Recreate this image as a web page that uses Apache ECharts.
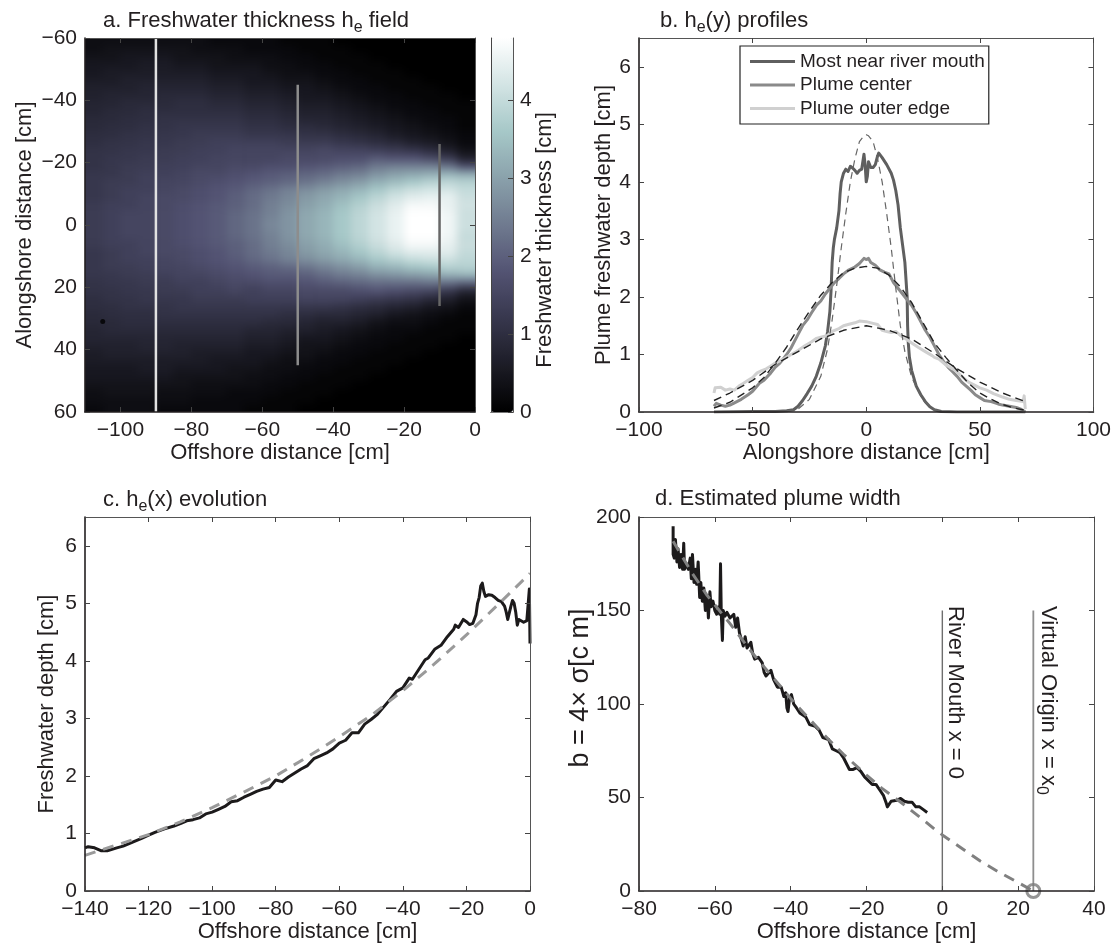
<!DOCTYPE html>
<html><head><meta charset="utf-8">
<style>
html,body{margin:0;background:#fff}
#c{position:absolute;left:0;top:0;width:1114px;height:949px;z-index:2}
#fieldClip{position:absolute;left:85px;top:38px;width:390px;height:374px;overflow:hidden;z-index:1;background:#000}
#field{position:absolute;left:-18px;top:-8px;width:426px;height:390px;filter:blur(4px)}
</style>
<script src="https://cdn.jsdelivr.net/npm/echarts@6/dist/echarts.min.js"></script>
</head><body><div id="fieldClip"><div id="field"></div></div><div id="c"></div>
<script>
// Panel a: field in tenths of a cm, columns = heatX, rows = heatY
const heatX=[-107.5,-102.5,-97.5,-92.5,-87.5,-82.5,-77.5,-72.5,-67.5,-62.5,-57.5,-52.5,-47.5,-42.5,-37.5,-32.5,-27.5,-22.5,-17.5,-12.5,-7.5,-2.5];
const heatY=[-58.75,-56.25,-53.75,-51.25,-48.75,-46.25,-43.75,-41.25,-38.75,-36.25,-33.75,-31.25,-28.75,-26.25,-23.75,-21.25,-18.75,-16.25,-13.75,-11.25,-8.75,-6.25,-3.75,-1.25,1.25,3.75,6.25,8.75,11.25,13.75,16.25,18.75,21.25,23.75,26.25,28.75,31.25,33.75,36.25,38.75,41.25,43.75,46.25,48.75,51.25,53.75,56.25,58.75];
const heatRows=[
[3,3,3,3,3,3,3,2,2,2,2,1,1,1,0,0,0,0,0,0,0,0],
[3,4,4,4,4,4,3,3,3,2,2,2,1,1,1,0,0,0,0,0,0,0],
[4,4,5,5,5,4,4,4,3,3,3,2,2,1,1,1,0,0,0,0,0,0],
[5,5,5,6,6,5,5,4,4,4,3,3,2,2,1,1,1,0,0,0,0,0],
[5,6,6,6,6,6,6,5,5,5,4,3,3,2,2,1,1,1,0,0,0,0],
[6,6,7,7,7,7,7,6,6,5,5,4,4,3,2,2,1,1,1,0,0,0],
[7,7,7,8,8,8,8,7,7,6,6,5,5,4,3,2,2,1,1,1,0,0],
[7,8,8,8,9,9,9,8,8,7,7,6,5,5,4,3,2,2,1,1,1,0],
[8,8,9,9,9,10,10,9,9,8,8,7,6,6,5,4,3,2,2,1,1,1],
[8,9,9,10,10,10,10,10,10,9,9,8,7,7,6,5,4,3,2,2,1,1],
[9,9,10,10,11,11,11,11,11,10,10,9,8,8,7,6,5,4,3,2,2,1],
[9,10,10,11,11,12,12,12,12,11,11,10,10,9,8,7,6,5,4,3,2,1],
[10,10,11,11,12,12,13,13,13,12,12,12,11,11,10,9,8,6,5,4,3,2],
[10,11,11,12,12,13,13,14,14,14,14,13,13,13,12,11,10,9,7,6,4,2],
[11,11,12,12,13,13,14,14,15,15,15,15,15,16,15,15,14,13,12,10,7,4],
[11,12,12,13,13,14,14,15,15,15,15,16,16,16,17,17,19,18,18,16,13,7],
[11,12,13,13,14,14,15,15,16,16,17,17,18,19,20,21,24,25,25,25,23,17],
[12,12,13,14,14,15,16,16,17,18,19,20,21,22,24,25,28,30,31,32,33,32],
[12,13,13,14,15,15,16,17,18,19,20,21,23,25,27,29,32,34,36,38,39,38],
[12,13,14,14,15,16,17,18,19,21,23,25,27,29,31,33,36,39,41,42,42,40],
[12,13,14,15,16,16,17,18,20,22,24,26,29,31,33,36,39,42,44,45,45,41],
[13,14,14,15,16,17,18,19,20,22,25,27,30,32,35,38,41,44,47,47,45,42],
[13,14,15,15,16,17,18,19,21,23,25,28,31,33,36,39,42,45,48,48,46,41],
[13,14,15,15,16,17,18,19,21,23,26,28,31,33,36,39,42,45,48,48,46,41],
[13,14,15,15,16,17,18,19,21,23,26,28,31,33,36,39,42,45,48,48,46,41],
[13,14,15,15,16,17,18,19,21,23,25,28,31,33,36,39,42,45,48,48,46,40],
[13,14,14,15,16,17,18,19,20,22,25,27,30,32,35,38,41,44,47,47,45,41],
[12,13,14,15,16,16,17,18,20,22,24,26,29,31,33,36,39,42,44,44,44,40],
[12,13,14,14,15,16,17,18,19,21,23,25,27,29,31,33,36,38,40,41,41,39],
[12,13,13,14,15,15,16,17,18,19,20,21,23,25,27,29,32,33,35,36,38,38],
[12,12,13,13,14,15,15,16,17,18,19,19,20,22,24,25,27,28,29,30,32,33],
[11,12,12,13,13,14,14,15,16,16,17,17,18,19,20,21,22,22,22,23,22,20],
[11,11,12,12,13,13,14,14,15,14,15,15,16,16,16,17,18,17,16,15,12,8],
[10,11,11,12,12,12,13,13,13,14,14,14,15,15,15,14,13,12,11,9,7,4],
[10,10,11,11,11,12,12,12,12,12,12,12,12,12,11,10,9,8,7,5,4,2],
[9,10,10,10,11,11,11,11,11,11,11,10,10,9,9,8,7,5,4,3,2,1],
[9,9,10,10,10,10,10,10,10,10,9,9,8,7,7,6,4,3,3,2,1,1],
[8,9,9,9,9,9,9,9,9,8,8,7,7,6,5,4,3,2,2,1,1,1],
[8,8,8,8,8,8,8,8,8,7,7,6,5,5,4,3,2,2,1,1,1,0],
[7,7,7,8,8,7,7,7,7,6,6,5,4,4,3,2,2,1,1,1,0,0],
[6,7,7,7,7,7,6,6,6,5,5,4,4,3,2,2,1,1,1,0,0,0],
[6,6,6,6,6,6,6,5,5,5,4,3,3,2,2,1,1,1,0,0,0,0],
[5,5,5,6,6,5,5,5,4,4,3,3,2,2,1,1,1,0,0,0,0,0],
[5,5,5,5,5,4,4,4,4,3,3,2,2,1,1,1,0,0,0,0,0,0],
[4,4,4,4,4,4,3,3,3,3,2,2,1,1,1,0,0,0,0,0,0,0],
[3,4,4,4,3,3,3,3,2,2,2,1,1,1,0,0,0,0,0,0,0,0],
[3,3,3,3,3,3,2,2,2,2,1,1,1,0,0,0,0,0,0,0,0,0],
[2,3,3,3,2,2,2,2,2,1,1,1,0,0,0,0,0,0,0,0,0,0]];
const boneStops=['#000000','#1c1c26','#37374d','#535373','#6f7a8f','#8aa1ab','#a6c8c8','#d3e4e4','#ffffff'];
const sectionFar=[[-90,-60],[-90,60]], sectionMid=[[-50,-45],[-50,45]], sectionNear=[[-10,-26],[-10,26]];
const darkSpot=[[-105,31]];

// Panel b
const nearProfile=[[-67,0],[-50,.01],[-40,.01],[-35,.02],[-32,.04],[-30,.1],[-28,.2],[-26,.32],[-24,.45],[-22,.62],[-20,.85],[-18,1.15],[-17,1.4],[-16,1.75],[-15.5,2.1],[-15,2.6],[-14.5,2.85],[-14,3],[-13,3.2],[-12,3.5],[-11.5,3.8],[-11,4],[-10,4.15],[-9,4.22],[-8,4.18],[-7,4.27],[-6,4.24],[-5,4.2],[-4,4.15],[-3,4.2],[-2,4.22],[-1,4.48],[-.5,4.3],[0,4],[.5,4.1],[1,4.35],[2,4.25],[3,4.25],[4,4.3],[5,4.45],[5.5,4.5],[7,4.42],[9,4.3],[11,4.15],[12,4.03],[13,3.85],[14,3.6],[15,3.2],[16,2.9],[17,2.6],[18,2],[18.2,1.5],[18.5,1.2],[19,.95],[20,.72],[22,.45],[24,.3],[26,.18],[28,.09],[30,.04],[33,.01],[40,0],[50,0],[70,0]];
const centerProfile=[[-67,.1],[-66,.15],[-64,.12],[-62,.1],[-60,.12],[-58,.16],[-55,.22],[-52,.3],[-50,.36],[-47,.5],[-45,.55],[-42,.68],[-40,.78],[-38,.85],[-35,1],[-33,1.12],[-30,1.35],[-28,1.5],[-26,1.6],[-24,1.73],[-22,1.85],[-20,1.93],[-18,2.05],[-16,2.15],[-14,2.25],[-12,2.32],[-10,2.4],[-8,2.46],[-5,2.52],[-3,2.58],[-1,2.67],[0,2.65],[1,2.67],[2,2.6],[4,2.55],[6,2.47],[8,2.43],[10,2.4],[12,2.25],[14,2.15],[16,2.05],[18,1.95],[20,1.85],[22,1.72],[24,1.57],[26,1.42],[28,1.3],[30,1.15],[32,1],[34,.88],[36,.78],[38,.7],[40,.62],[42,.52],[44,.45],[46,.38],[48,.3],[50,.25],[52,.2],[55,.18],[58,.14],[60,.12],[63,.1],[66,.08],[68,.05],[70,0]];
const outerProfile=[[-67,.33],[-66.5,.42],[-64,.43],[-62,.38],[-60,.4],[-58,.38],[-56,.45],[-54,.5],[-52,.55],[-50,.6],[-48,.68],[-46,.72],[-44,.75],[-42,.8],[-40,.85],[-36,.93],[-33,1],[-30,1.07],[-27,1.15],[-24,1.22],[-22,1.28],[-20,1.3],[-17,1.33],[-15,1.4],[-12,1.45],[-10,1.5],[-8,1.52],[-5,1.55],[-3,1.58],[0,1.57],[3,1.54],[5,1.52],[7,1.42],[9,1.4],[11,1.38],[13,1.4],[15,1.33],[17,1.28],[20,1.2],[23,1.12],[26,1.05],[29,.98],[30,.95],[32,.92],[35,.82],[38,.75],[40,.7],[42,.62],[45,.52],[47,.48],[50,.42],[53,.38],[56,.32],[60,.26],[63,.22],[66,.2],[69,.18],[69.5,.28],[70,.05]];
const nearFit=[[-35,.02],[-30,.05],[-25,.22],[-20,.62],[-17,1.1],[-15,1.6],[-13,2.2],[-11,2.85],[-9,3.45],[-7,4],[-5,4.4],[-3,4.7],[-1,4.8],[0,4.82],[1,4.8],[3,4.7],[5,4.4],[7,4],[9,3.45],[11,2.85],[13,2.15],[15,1.5],[17,1.05],[20,.6],[25,.2],[30,.04],[35,0]];
const centerFit=[[-67,.07],[-60,.17],[-50,.42],[-45,.6],[-40,.85],[-35,1.13],[-30,1.45],[-25,1.75],[-20,2.03],[-15,2.25],[-10,2.42],[-5,2.5],[0,2.53],[5,2.5],[10,2.38],[15,2.18],[20,1.9],[25,1.55],[30,1.2],[35,.95],[40,.72],[45,.5],[50,.33],[55,.22],[60,.13],[65,.07],[70,.03]];
const outerFit=[[-67,.2],[-60,.33],[-50,.55],[-40,.83],[-30,1.05],[-20,1.27],[-10,1.42],[0,1.5],[10,1.42],[20,1.27],[30,1.02],[40,.75],[50,.52],[60,.33],[70,.18]];

// Panel c
const evolution=[[-140,.75],[-139,.77],[-137,.75],[-135,.7],[-133,.7],[-130,.75],[-128,.78],[-125,.85],[-122,.92],[-120,.97],[-118,1.02],[-115,1.08],[-112,1.13],[-110,1.17],[-108,1.22],[-106,1.24],[-104,1.27],[-102,1.34],[-100,1.37],[-98,1.42],[-96,1.47],[-94,1.55],[-92,1.57],[-90,1.63],[-88,1.68],[-86,1.73],[-84,1.77],[-82,1.8],[-80,1.93],[-78,1.9],[-76,1.98],[-74,2.05],[-72,2.12],[-70,2.18],[-68,2.3],[-66,2.35],[-64,2.4],[-62,2.47],[-60,2.57],[-58,2.62],[-56,2.75],[-54,2.75],[-52,2.9],[-50,2.98],[-48,3.07],[-46,3.2],[-44,3.33],[-42,3.47],[-40,3.53],[-38,3.7],[-37,3.68],[-35,3.85],[-33,4.02],[-32,4.05],[-30,4.2],[-28,4.27],[-26,4.42],[-24,4.55],[-23.5,4.62],[-22.5,4.58],[-21,4.72],[-20,4.68],[-19,4.63],[-18,4.65],[-17,4.8],[-16.5,5],[-16,5.1],[-15.5,5.3],[-15,5.35],[-14.5,5.2],[-14,5.12],[-13,5.15],[-12,5.14],[-11,5.1],[-10,5.05],[-9,5.03],[-8,4.95],[-7.5,4.85],[-7,4.72],[-6.5,4.72],[-6,4.95],[-5.5,5.05],[-5,5],[-4.5,4.85],[-4,4.62],[-3.5,4.72],[-3,4.75],[-2,4.67],[-1,4.7],[-.5,4.67],[-.2,5.25],[0,4.3]];
const evolutionFit=[[-140,.62],[-130,.8],[-120,.98],[-110,1.2],[-100,1.45],[-90,1.72],[-80,2],[-70,2.33],[-60,2.68],[-50,3.05],[-40,3.48],[-30,3.95],[-20,4.45],[-10,4.98],[0,5.52]];

// Panel d
const width=[[-71,195],[-71,180],[-70.7,178],[-70.4,188],[-70,176],[-69.7,183],[-69.3,173],[-68.9,180],[-68.5,172],[-68.2,186],[-68,172],[-67.5,175],[-67,172],[-66.5,178],[-66.2,167],[-65.9,180],[-65.5,165],[-65,172],[-64.8,164],[-64.4,176],[-64,157],[-63.7,165],[-63.3,155],[-62.9,162],[-62.5,150],[-62,158],[-61.7,146],[-61.3,160],[-61,152],[-60.5,155],[-60,150],[-59.5,148],[-59,152],[-58.7,148],[-58.5,175],[-58.3,148],[-58,134],[-57.8,150],[-57.3,147],[-56.8,149],[-56,146],[-55.5,145],[-55,148],[-54.5,141],[-54,146],[-53.5,138],[-53,137],[-52.5,131],[-52,136],[-51.5,130],[-51,129],[-50.5,133],[-50,127],[-49.5,124],[-48.5,125],[-47.5,122],[-47,117],[-46.5,115],[-46,116],[-45.2,118],[-44.5,113],[-43.5,109],[-42.5,109],[-41.8,104],[-41.3,106],[-41,98],[-40.7,96],[-40.3,103],[-39.8,105],[-39.2,100],[-38.5,98],[-37.5,95],[-36,93],[-35,89],[-33.5,88],[-32.5,86],[-31.5,82],[-30,81],[-29,76],[-28,75],[-27,74],[-26,71],[-25,67],[-24.5,65],[-23.5,65],[-22.5,66],[-21.5,64],[-20.5,61],[-19.5,59],[-18.5,57],[-17.5,57],[-16.5,54],[-15.5,51],[-14.8,47],[-14.5,45],[-14,45],[-13.5,48],[-12,48.5],[-11,49.5],[-10,48],[-9,47.5],[-8,47.5],[-7,45],[-6,45],[-5,43.5],[-4,42]];
const widthFit=[[-71,187],[-66,170],[-62,158],[-56,143],[-50,127],[-45,115],[-40,103],[-36,94],[-30,81],[-26,73],[-20,62],[-16,55],[-10,46],[-5,38],[-2,33],[0,30],[5,23],[10,16],[15,10],[20,4.5],[24,0]];
const riverMouth=[[0,0],[0,150]], virtualOrigin=[[24,0],[24,150]], originMark=[[24,0]];

// Tick labels
const aXTicks=[-100,-80,-60,-40,-20,0], aYTicks=[-60,-40,-20,0,20,40,60];
const barTicks=[0,1,2,3,4];
const bXTicks=[-100,-50,0,50,100], depthTicks=[0,1,2,3,4,5,6];
const cXTicks=[-140,-120,-100,-80,-60,-40,-20,0];
const dXTicks=[-80,-60,-40,-20,0,20,40], dYTicks=[0,50,100,150,200];

const FONT='"Liberation Sans",Arial,sans-serif', INK='#231f20', TICK=21;
const minus=v=>String(v).replace('-','\u2212');
const grids=[
 {left:85,top:38,width:390,height:374},
 {left:639,top:38,width:455,height:374},
 {left:85,top:517,width:445,height:374},
 {left:639,top:517,width:455,height:374},
 {left:491,top:38,width:22,height:374}
];
const xAxis=[],yAxis=[];
function addAxes(list,grid,pos,min,max,ticks,opt){
 const labelled=opt.labelled;
 list.push(Object.assign({type:'value',gridIndex:grid,position:pos,min,max,z:6,splitLine:{show:false},
  axisLine:{show:true,onZero:false,lineStyle:{color:labelled?INK:'#555',width:labelled?1.6:1}},
  axisTick:{show:true,inside:true,length:5,customValues:ticks,lineStyle:{color:'#444',width:1}},
  axisLabel:{show:labelled,customValues:ticks,formatter:minus,color:INK,fontFamily:FONT,fontSize:TICK,margin:opt.margin||8,hideOverlap:false},
  nameTextStyle:{color:INK,fontFamily:FONT,fontSize:22},nameLocation:'middle',nameGap:opt.gap,name:opt.name||''},opt.extra||{}));
}
function frame(grid,xr,xt,yr,yt,xName,yName,yGap,extraY){
 addAxes(xAxis,grid,'bottom',xr[0],xr[1],xt,{labelled:true,name:xName,gap:29});
 addAxes(xAxis,grid,'top',xr[0],xr[1],xt,{labelled:false});
 addAxes(yAxis,grid,'left',yr[0],yr[1],yt,{labelled:true,name:yName,gap:yGap,extra:extraY});
 addAxes(yAxis,grid,'right',yr[0],yr[1],yt,{labelled:false,extra:extraY});
 return {x:xAxis.length-2,y:yAxis.length-2};
}
const A=frame(0,[-110,0],aXTicks,[-60,60],aYTicks,'Offshore distance [cm]','Alongshore distance [cm]',49,{inverse:true});
const B=frame(1,[-100,100],bXTicks,[0,6.5],depthTicks,'Alongshore distance [cm]','Plume freshwater depth [cm]',17);
const C=frame(2,[-140,0],cXTicks,[0,6.5],depthTicks,'Offshore distance [cm]','Freshwater depth [cm]',27);
const D=frame(3,[-80,40],dXTicks,[0,200],dYTicks,'Offshore distance [cm]','',46);
// colorbar frame
xAxis.push({type:'value',gridIndex:4,min:0,max:1,z:6,axisLine:{show:true,lineStyle:{color:INK}},axisTick:{show:false},axisLabel:{show:false},splitLine:{show:false}});
xAxis.push({type:'value',gridIndex:4,position:'top',min:0,max:1,z:6,axisLine:{show:true,lineStyle:{color:'#777'}},axisTick:{show:false},axisLabel:{show:false},splitLine:{show:false}});
addAxes(yAxis,4,'right',0,4.8,barTicks,{labelled:true,margin:7,extra:{axisLine:{show:true,onZero:false,lineStyle:{color:'#555',width:1}}}});
yAxis.push({type:'value',gridIndex:4,position:'left',min:0,max:4.8,z:6,axisLine:{show:true,lineStyle:{color:'#444'}},axisTick:{show:false},axisLabel:{show:false},splitLine:{show:false}});

const ln=(a,data,color,w,dash,z)=>({type:'line',xAxisIndex:a.x,yAxisIndex:a.y,data,showSymbol:false,symbol:'none',silent:true,z:z||3,
  lineStyle:{color,width:w,type:dash||'solid',cap:'butt',join:'round'},itemStyle:{color},animation:false});
const named=(name,s)=>Object.assign(s,{name});
const series=[
 ln(A,sectionFar,'#e2e2e2',2.5),ln(A,sectionMid,'#8d8d8d',2.5),ln(A,sectionNear,'#666666',2.5),
 {type:'scatter',xAxisIndex:A.x,yAxisIndex:A.y,data:darkSpot,symbolSize:5,itemStyle:{color:'#000'},silent:true,z:3},
 named('Most near river mouth',ln(B,nearProfile,'#5f5f5f',3,null,3)),
 named('Plume center',ln(B,centerProfile,'#8a8a8a',3,null,3)),
 named('Plume outer edge',ln(B,outerProfile,'#d0d0d0',3,null,4)),
 ln(B,nearFit,'#666666',1.2,[7,5],5),ln(B,centerFit,'#222222',1.4,[8,5],5),ln(B,outerFit,'#222222',1.4,[8,5],5),
 ln(C,evolution,'#1c1a1b',3),ln(C,evolutionFit,'#9a9a9a',3,[11,8],4),
 ln(D,width,'#1c1a1b',3),ln(D,widthFit,'#808080',3,[11,8],4),
 ln(D,riverMouth,'#6e6e6e',1.4),ln(D,virtualOrigin,'#8e8e8e',1.8),
 {type:'scatter',xAxisIndex:D.x,yAxisIndex:D.y,data:originMark,symbol:'circle',symbolSize:13,clip:false,silent:true,z:5,
  itemStyle:{color:'rgba(0,0,0,0)',borderColor:'#7a7a7a',borderWidth:3}}
];
const TITLE=22;
const sub={fontSize:16,fontFamily:FONT,color:INK,padding:[14,0,0,0]};
const ttl=(text,left,top)=>({text,left,top,padding:0,textStyle:{fontFamily:FONT,fontSize:TITLE,fontWeight:'normal',color:INK,rich:{s:sub,t:{fontFamily:FONT,fontSize:TITLE,color:INK}}}});
const rot=(text,x,y,rotation,size,align,rich)=>({type:'text',x,y,rotation,z:9,style:{text,rich,fill:INK,font:size+'px "Liberation Sans"',textAlign:align,textVerticalAlign:'middle'}});
const virtualRich={t:{fontFamily:FONT,fontSize:22,fill:INK,color:INK},s:{fontFamily:FONT,fontSize:16,fill:INK,color:INK,padding:[14,0,0,0]}};

// the field, drawn behind the axes; edge rows and columns are repeated past the frame so its soft edge falls outside the clip
const padX=['l',...heatX,'r'], padY=['t',...heatY,'b'];
const fieldData=[];
for(let j=0;j<padY.length;j++)for(let i=0;i<padX.length;i++){
 const r=heatRows[Math.min(heatRows.length-1,Math.max(0,j-1))];
 fieldData.push([i,j,r[Math.min(r.length-1,Math.max(0,i-1))]/10]);
}
const field=echarts.init(document.getElementById('field'));
field.setOption({animation:false,backgroundColor:'#000',
 grid:{left:0,right:0,top:0,bottom:0},
 xAxis:{type:'category',data:padX,show:false},yAxis:{type:'category',data:padY,inverse:true,show:false},
 visualMap:{type:'continuous',min:0,max:4.8,show:false,inRange:{color:boneStops}},
 series:[{type:'heatmap',data:fieldData,silent:true,progressive:0,animation:false,emphasis:{disabled:true}}]});

const chart=echarts.init(document.getElementById('c'),null,{renderer:'canvas'});
chart.setOption({
 animation:false,backgroundColor:'transparent',
 title:[ttl('{t|a. Freshwater thickness h}{s|e}{t| field}',103,6),ttl('{t|b. h}{s|e}{t|(y) profiles}',660,6),ttl('{t|c. h}{s|e}{t|(x) evolution}',103,485),ttl('d. Estimated plume width',655,488)],
 grid:grids,xAxis,yAxis,series,
 visualMap:{type:'continuous',min:0,max:4.8,seriesIndex:[],show:true,left:491,top:38,itemWidth:22,itemHeight:374,padding:0,calculable:false,text:null,hoverLink:false,inRange:{color:boneStops},z:1},
 legend:{data:['Most near river mouth','Plume center','Plume outer edge'],orient:'vertical',left:740,top:46,icon:'rect',itemWidth:45,itemHeight:3,itemGap:4.5,padding:[6,4,6,10],backgroundColor:'#fff',borderColor:'#222',borderWidth:1.2,borderRadius:0,align:'left',selectedMode:false,z:8,
  textStyle:{fontFamily:FONT,fontSize:19,color:INK}},
 graphic:[
  rot('River Mouth x = 0',955,606,-Math.PI/2,22,'left'),
  rot('{t|Virtual Origin x = x}{s|0}',1048,606,-Math.PI/2,22,'left',virtualRich),
  rot('Freshwater thickness [cm]',545,240,Math.PI/2,22,'center'),
  rot('b = 4\u00d7 \u03c3[c m]',581,688,Math.PI/2,27,'center')
 ]
});
</script></body></html>
